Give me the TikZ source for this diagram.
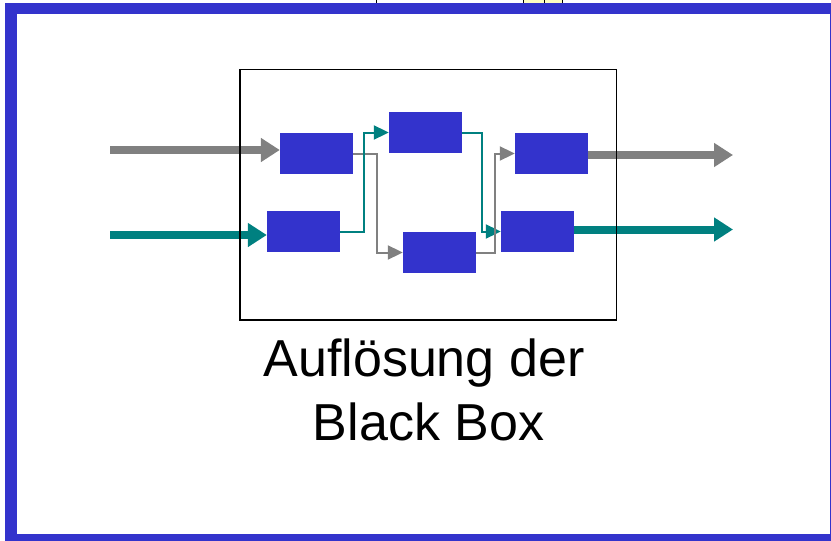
\documentclass[tikz,border=0pt]{standalone}
\usepackage{fontspec}
\setmainfont{Liberation Sans}
\usetikzlibrary{arrows.meta}
\definecolor{boxblue}{HTML}{3333CC}
\definecolor{tealc}{HTML}{008080}
\definecolor{grayc}{HTML}{808080}
\definecolor{pale}{HTML}{FFFFC0}
\tikzset{
  blockbox/.style={fill=boxblue, minimum width=73pt, minimum height=41pt, inner sep=0pt, draw=none},
  thickarrow/.style={line width=8pt, -{Triangle[length=19pt,width=23pt]}},
  thinarrow/.style={line width=2pt, -{Triangle[length=15pt,width=14pt]}},
  caption/.style={anchor=base, inner sep=0pt, font=\fontsize{52}{60}\selectfont}
}
\begin{document}
\begin{tikzpicture}[x=1pt,y=-1pt]
\useasboundingbox (0,0) rectangle (831,541);
% small remnants at top
\draw[black, line width=1pt] (376,0) -- (376,3.5);
\draw[black, fill=pale, line width=0.8pt] (523.7,-1) rectangle (544,3.5);
\draw[black, fill=pale, line width=0.8pt] (544,-1) rectangle (562.7,3.5);
% blue frame
\fill[boxblue] (4.5,3.3) rectangle (831,541);
\fill[white] (16.7,14.3) rectangle (829.7,534);
% blocks
\node[blockbox] (a) at (316.5,153.5) {};
\node[blockbox] (b) at (303.5,231.5) {};
\node[blockbox] (c) at (425.5,132.5) {};
\node[blockbox] (d) at (439.5,252.5) {};
\node[blockbox] (e) at (551.5,153.5) {};
\node[blockbox] (f) at (537.5,231.5) {};
% free ends
\coordinate (in1) at (110,150);
\coordinate (in2) at (110,235);
\coordinate (out1) at (733,155);
\coordinate (out2) at (733,229.5);
% thick arrows
\draw[thickarrow, grayc] (in1) -- (in1 -| a.west);
\draw[thickarrow, tealc] (in2) -- (in2 -| b.west);
\draw[thickarrow, grayc] (out1 -| e.east) -- (out1);
\draw[thickarrow, tealc] (out2 -| f.east) -- (out2);
% thin connectors
\draw[thinarrow, grayc] (a.east) -- ++(24,0) |- (d.west);
\draw[thinarrow, tealc] (b.east) -- ++(24,0) |- (c.west);
\draw[thinarrow, tealc] (c.east) -- ++(19.7,0) |- (f.west);
\draw[thinarrow, grayc] (d.east) -- ++(19,0) |- (e.west);
% black box
\node[draw=black, line width=1.5pt, minimum width=376.5pt, minimum height=250.7pt, inner sep=0pt] (bb) at (428.3,194.7) {};
% caption
\node[caption] (t1) at (424,376) {Auflösung der};
\node[caption] (t2) at (428.5,440) {Black Box};
\end{tikzpicture}
\end{document}
